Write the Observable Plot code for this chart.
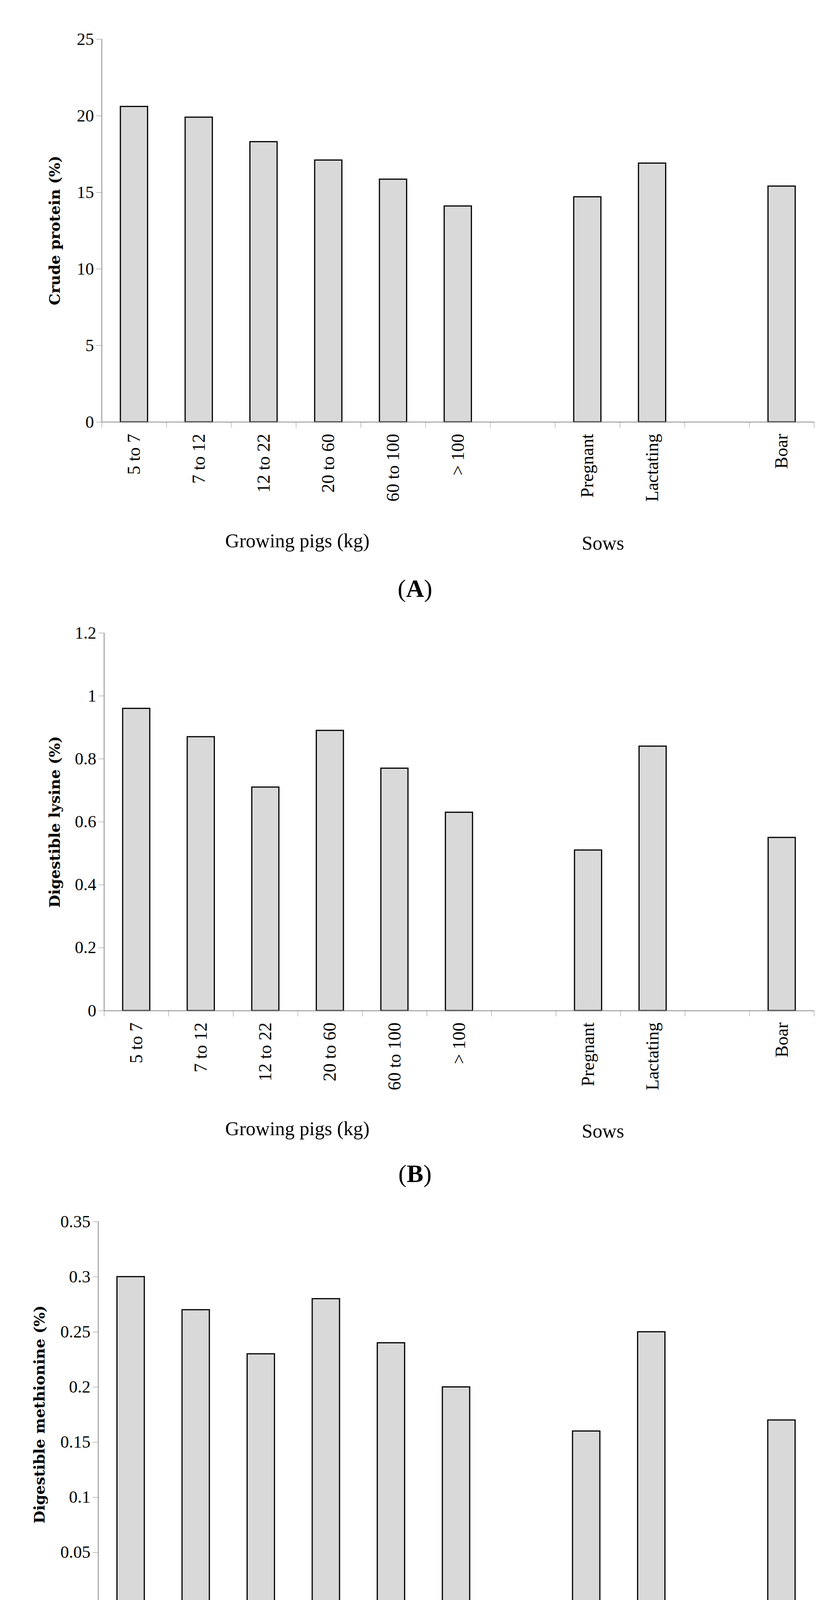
<!DOCTYPE html>
<html><head><meta charset="utf-8">
<script src="https://cdn.jsdelivr.net/npm/d3@7"></script>
<script src="https://cdn.jsdelivr.net/npm/@observablehq/plot@0.6"></script>
<style>
html,body{margin:0;background:#fff;font-family:"Liberation Serif",serif;overflow:hidden;}
#wrap{position:relative;width:2124px;height:4576px;overflow:hidden;}
.p{position:absolute;left:0;z-index:1;}
.lab{position:absolute;font-size:50px;transform:translateX(-50%);white-space:nowrap;z-index:2;}
.pan{position:absolute;font-size:64px;transform:translateX(-50%);z-index:2;}
</style></head><body><div id="wrap"></div>
<script>
const categories = ["5 to 7","7 to 12","12 to 22","20 to 60","60 to 100","> 100","","Pregnant","Lactating","","Boar"];
const crudeProtein = [20.6,19.9,18.3,17.1,15.85,14.1,null,14.7,16.9,null,15.4];
const lysine = [0.96,0.87,0.71,0.89,0.77,0.63,null,0.51,0.84,null,0.55];
const methionine = [0.30,0.27,0.23,0.28,0.24,0.20,null,0.16,0.25,null,0.17];
const yTicksA = [0,5,10,15,20,25];
const yTicksB = [0,0.2,0.4,0.6,0.8,1,1.2];
const yTicksC = [0,0.05,0.1,0.15,0.2,0.25,0.3,0.35];

const wrap = document.getElementById("wrap");
function panel(vals, ticks, ymax, label, top, plotH, ml, ylabX, letter, gy, ly){
  const data = categories.map((c,i)=>({i, c, v: vals[i]}));
  const bars = data.filter(d=>d.v!=null);
  const mt = 60, mb = 260;
  const svg = Plot.plot({
    width: 2124, height: mt+plotH+mb, marginTop: mt, marginBottom: mb, marginLeft: ml, marginRight: 41,
    style:{fontFamily:"Liberation Serif", fontSize:"42px", background:"transparent", overflow:"visible"},
    x:{domain:[0,11], axis:null},
    y:{domain:[0,ymax], axis:null},
    marks:[
      Plot.rectY(bars,{x1:d=>d.i+0.29, x2:d=>d.i+0.71, y:"v", fill:"#d9d9d9", stroke:"#000", strokeWidth:3}),
      Plot.ruleX([0],{stroke:"#888", strokeWidth:2}),
      Plot.ruleY([0],{stroke:"#888", strokeWidth:2}),
      Plot.axisY({ticks, tickSize:14, tickFormat:d=>String(d), stroke:"#888", fontSize:44, tickPadding:6, label:null}),
      Plot.axisX({ticks:d3.range(12), tickSize:15, tickFormat:()=>"" , stroke:"#888", label:null}),
      Plot.text(data.filter(d=>d.c),{x:d=>d.i+0.5, y:0, text:"c", rotate:-90, textAnchor:"end", lineAnchor:"middle", dy:30, fontSize:46, fill:"#000"})
    ]
  });
  svg.classList.add("p"); svg.style.top = (top-mt)+"px";
  wrap.appendChild(svg);
  const t = document.createElement("div");
  t.textContent = label;
  Object.assign(t.style,{position:"absolute", zIndex:2, left:ylabX+"px", top:(top+plotH/2)+"px", transform:"translate(-50%,-50%) rotate(-90deg)", fontWeight:"bold", fontSize:"38px", whiteSpace:"nowrap", fontFamily:"DejaVu Serif"});
  wrap.appendChild(t);
  const g1 = document.createElement("div"); g1.className="lab"; g1.textContent="Growing pigs (kg)"; g1.style.left="761px"; g1.style.top=gy+"px"; wrap.appendChild(g1);
  const g2 = document.createElement("div"); g2.className="lab"; g2.textContent="Sows"; g2.style.left="1543px"; g2.style.top=(gy+6)+"px"; wrap.appendChild(g2);
  const L = document.createElement("div"); L.className="pan"; L.innerHTML="(<b>"+letter+"</b>)"; L.style.left="1062px"; L.style.top=ly+"px"; wrap.appendChild(L);
}
panel(crudeProtein, yTicksA, 25, "Crude protein (%)", 100, 980, 260, 139, "A", 1355, 1470);
panel(lysine, yTicksB, 1.2, "Digestible lysine (%)", 1620, 967, 266, 139, "B", 2860, 2968);
panel(methionine, yTicksC, 0.35, "Digestible methionine (%)", 3127, 988, 251, 100, "C", 4390, 4497);
</script></body></html>
